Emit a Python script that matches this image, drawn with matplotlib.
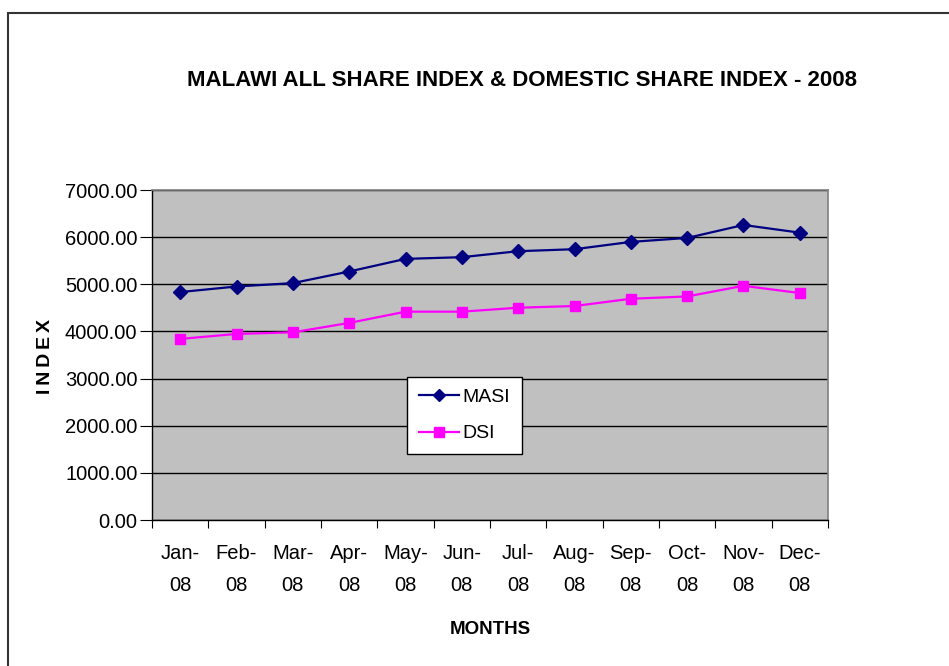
import matplotlib
matplotlib.use("Agg")
import matplotlib.pyplot as plt
from matplotlib.patches import Rectangle
from matplotlib.lines import Line2D
import numpy as np

plt.rcParams['font.family'] = ['Liberation Sans', 'DejaVu Sans']

months = ["Jan-\n08", "Feb-\n08", "Mar-\n08", "Apr-\n08", "May-\n08", "Jun-\n08",
          "Jul-\n08", "Aug-\n08", "Sep-\n08", "Oct-\n08", "Nov-\n08", "Dec-\n08"]
masi = [4835, 4953, 5025, 5271, 5539, 5575, 5702, 5744, 5899, 5983, 6258, 6095]
dsi = [3841, 3947, 3981, 4180, 4419, 4419, 4503, 4539, 4693, 4742, 4968, 4814]
yticks = [0, 1000, 2000, 3000, 4000, 5000, 6000, 7000]

fig = plt.figure(figsize=(9.49, 6.66), dpi=100)
fig.patches.append(Rectangle((8/949, -0.1), 1.2, (666-13)/666 + 0.1, transform=fig.transFigure,
                             fill=False, edgecolor='#333333', linewidth=1.5, zorder=0))
ax = fig.add_axes([152/949, (666-520)/666, (828-152)/949, (520-190)/666])
ax.set_facecolor('#C0C0C0')

x = np.arange(len(months))
ax.plot(x, masi, color='#000080', marker='D', markersize=7, linewidth=1.6, zorder=3)
ax.plot(x, dsi, color='#FF00FF', marker='s', markersize=7.5, linewidth=1.6, zorder=3)

ax.set_xlim(-0.5, len(months) - 0.5)
ax.set_ylim(0, 7000)
ax.set_yticks(yticks)
ax.set_yticklabels([f"{v:.2f}" for v in yticks], fontsize=14.5)
ax.yaxis.grid(True, color='black', linewidth=1)
ax.set_axisbelow(True)

ax.set_xticks(np.arange(-0.5, len(months), 1.0))
ax.set_xticklabels([])
ax.set_xticks(x, minor=True)
ax.set_xticklabels(months, minor=True, fontsize=14.5, linespacing=1.9)
ax.tick_params(axis='x', which='minor', length=0, pad=17)
ax.tick_params(axis='x', which='major', length=6, direction='out', color='black')
ax.tick_params(axis='y', length=8.5, direction='out', color='black', pad=2)

for s in ['top', 'right']:
    ax.spines[s].set_color('#808080')
    ax.spines[s].set_linewidth(1.2)
for s in ['left', 'bottom']:
    ax.spines[s].set_color('black')
    ax.spines[s].set_linewidth(1.0)

fig.text(522/949, 1 - 80/666, "MALAWI ALL SHARE INDEX & DOMESTIC SHARE INDEX - 2008",
         ha='center', va='center', fontsize=16, fontweight='bold')
fig.text(490/949, 1 - 630/666, "MONTHS", ha='center', va='center', fontsize=13.5, fontweight='bold')
fig.text(45/949, 1 - 357/666, "I\u2009N\u2009D\u2009E\u2009X", ha='center', va='center', rotation=90,
         fontsize=14, fontweight='bold')

handles = [Line2D([], [], color='#000080', marker='D', markersize=6, linewidth=1.6),
           Line2D([], [], color='#FF00FF', marker='s', markersize=7, linewidth=1.6)]
leg = ax.legend(handles, ["MASI", "DSI"], loc='upper left',
                bbox_to_anchor=((407-152)/676, (520-377)/330), fontsize=14,
                frameon=True, fancybox=False, framealpha=1, edgecolor='black',
                handlelength=2.05, handletextpad=0.2, borderpad=0.6, labelspacing=0.95,
                borderaxespad=0)
leg.get_frame().set_linewidth(1.0)

fig.savefig("out.png", dpi=100)
